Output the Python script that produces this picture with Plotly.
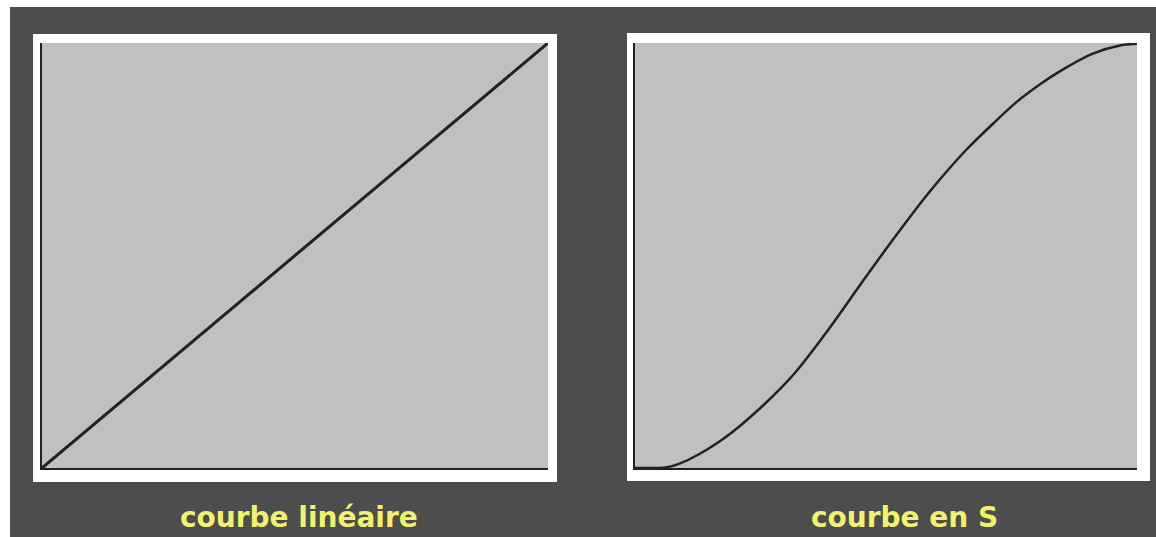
"""Courbe linéaire vs courbe en S"""

import plotly.graph_objects as go

# courbe linéaire (0-100 en entrée / sortie)
lin_x = [0, 100]
lin_y = [0, 100]

# courbe en S
s_x = [0, 6.4, 9.0, 12.4, 16.9, 20.9, 25.5, 28.9, 32.3, 38.8, 45.4, 51.8, 58.2,
       62.7, 66.1, 71.3, 76.1, 80.7, 84.7, 91.2, 96.6, 100]
s_y = [0, 0.2, 1.1, 3.0, 6.3, 9.9, 14.7, 18.6, 23.0, 33.0, 44.0, 54.4, 64.3,
       70.6, 75.0, 81.0, 86.2, 90.3, 93.4, 97.5, 99.4, 99.8]

titles = ['courbe linéaire', 'courbe en S']

W, H = 1156, 537
BG = '#4d4d4d'
PLOT_BG = '#c0c0c0'
LINE = '#222222'


def px(x):
    return x / W


def py(y):
    return 1 - y / H


fig = go.Figure()

fig.add_trace(go.Scatter(x=lin_x, y=lin_y, mode='lines', xaxis='x', yaxis='y',
                         line=dict(color=LINE, width=3), hoverinfo='skip'))
fig.add_trace(go.Scatter(x=s_x, y=s_y, mode='lines', xaxis='x2', yaxis='y2',
                         line=dict(color=LINE, width=2.5, shape='spline', smoothing=1),
                         hoverinfo='skip'))

axis_style = dict(range=[0, 100], showgrid=False, zeroline=False, showticklabels=False,
                  ticks='', showline=True, linecolor=LINE, linewidth=2, fixedrange=True)

shapes = [
    # bandes blanches du bord (haut et gauche)
    dict(type='rect', xref='paper', yref='paper', x0=0, x1=1, y0=py(7), y1=1,
         fillcolor='white', line_width=0, layer='below'),
    dict(type='rect', xref='paper', yref='paper', x0=0, x1=px(10), y0=0, y1=1,
         fillcolor='white', line_width=0, layer='below'),
    # cadres blancs
    dict(type='rect', xref='paper', yref='paper', x0=px(33), x1=px(557), y0=py(482), y1=py(34),
         fillcolor='white', line_width=0, layer='below'),
    dict(type='rect', xref='paper', yref='paper', x0=px(627), x1=px(1150), y0=py(481), y1=py(33),
         fillcolor='white', line_width=0, layer='below'),
    # fonds gris
    dict(type='rect', xref='x domain', yref='y domain', x0=0, x1=1, y0=0, y1=1,
         fillcolor=PLOT_BG, line_width=0, layer='below'),
    dict(type='rect', xref='x2 domain', yref='y2 domain', x0=0, x1=1, y0=0, y1=1,
         fillcolor=PLOT_BG, line_width=0, layer='below'),
]

annotations = [
    dict(text=titles[0], x=px(299), y=py(517), xref='paper', yref='paper',
         xanchor='center', yanchor='middle', showarrow=False,
         font=dict(family='DejaVu Sans', size=28, color='#f2f26c', weight='bold')),
    dict(text=titles[1], x=px(904), y=py(517), xref='paper', yref='paper',
         xanchor='center', yanchor='middle', showarrow=False,
         font=dict(family='DejaVu Sans', size=28, color='#f2f26c', weight='bold')),
]

fig.update_layout(
    width=W, height=H,
    margin=dict(l=0, r=0, t=0, b=0),
    paper_bgcolor=BG,
    plot_bgcolor='rgba(0,0,0,0)',
    showlegend=False,
    xaxis=dict(domain=[px(42), px(548)], anchor='y', **axis_style),
    yaxis=dict(domain=[py(468), py(43)], anchor='x', **axis_style),
    xaxis2=dict(domain=[px(635), px(1137)], anchor='y2', **axis_style),
    yaxis2=dict(domain=[py(468), py(43)], anchor='x2', **axis_style),
    shapes=shapes,
    annotations=annotations,
)

# pas de marge de page ni de barres de défilement
fig.write_html('out.html', config={'displayModeBar': False},
               post_script="document.body.style.margin='0';"
                           "document.body.style.overflow='hidden';")
